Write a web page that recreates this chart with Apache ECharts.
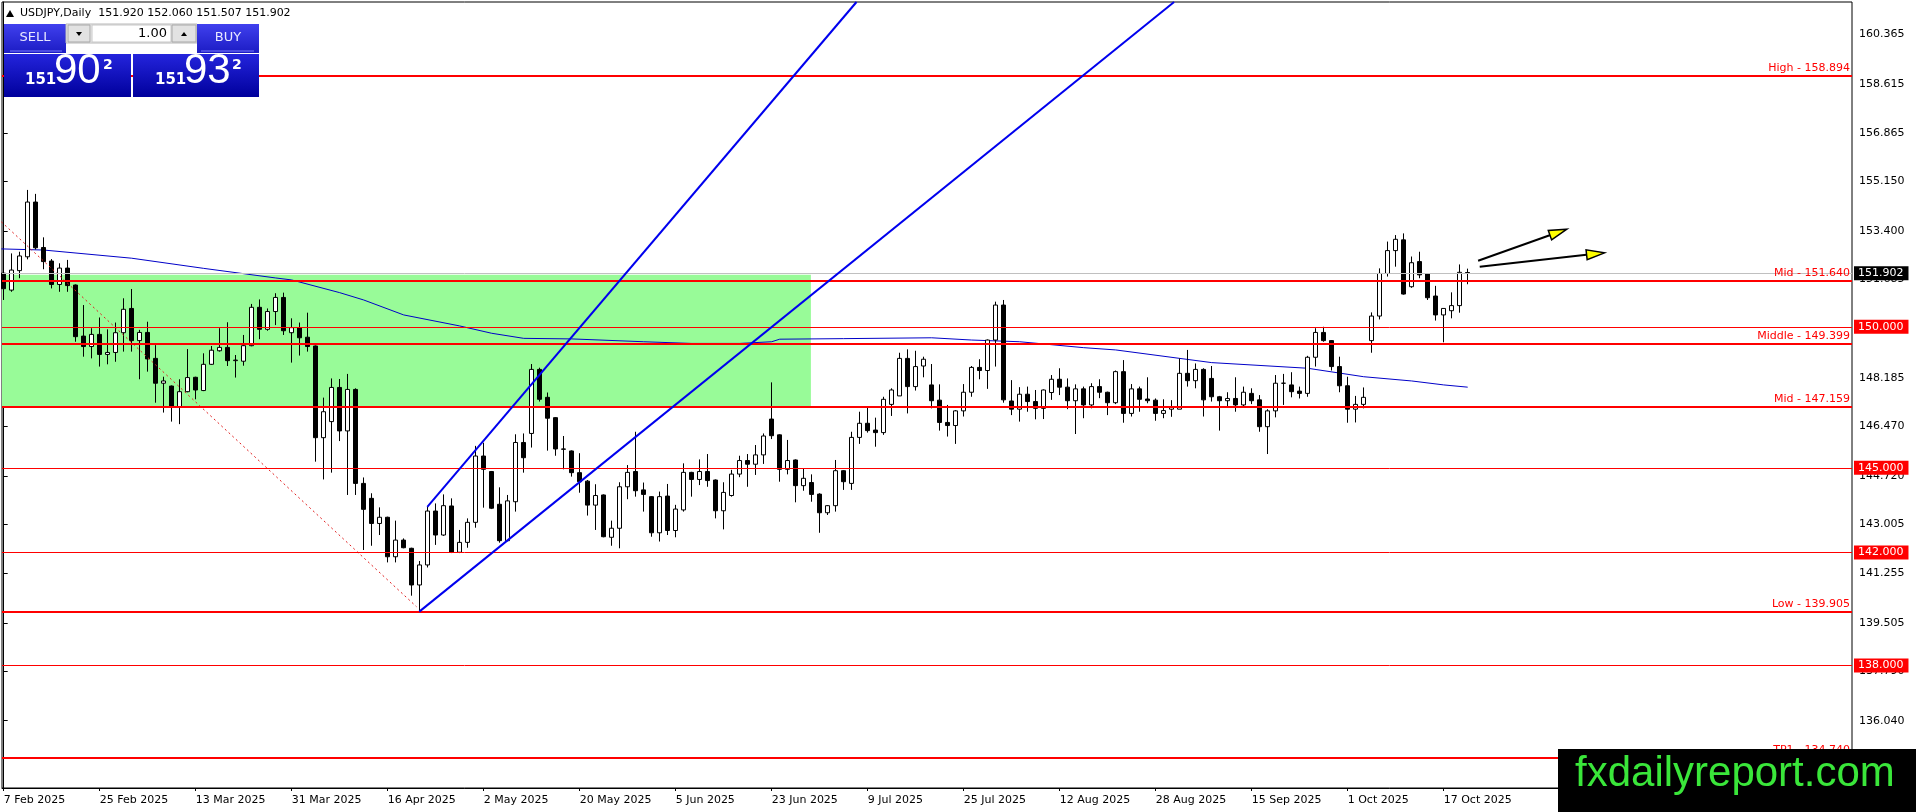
<!DOCTYPE html>
<html><head><meta charset="utf-8">
<script src="https://cdn.jsdelivr.net/npm/echarts@6.0.0/dist/echarts.min.js"></script>
<style>html,body{margin:0;padding:0;background:#fff;}#c{width:1916px;height:812px;}</style>
</head><body><div id="c"></div>
<script>
const symbolName = 'USDJPY,Daily';
const dateLabels = ['7 Feb 2025','25 Feb 2025','13 Mar 2025','31 Mar 2025','16 Apr 2025','2 May 2025','20 May 2025','5 Jun 2025','23 Jun 2025','9 Jul 2025','25 Jul 2025','12 Aug 2025','28 Aug 2025','15 Sep 2025','1 Oct 2025','17 Oct 2025'];
const labelBars = [0,12,24,36,48,60,72,84,96,108,120,132,144,156,168,180];
const priceTicks = [160.365,158.615,156.865,155.150,153.400,151.685,149.935,148.185,146.470,144.720,143.005,141.255,139.505,137.790,136.040];

// [open, high, low, close] per daily bar
const ohlc = [
[151.90,152.49,150.95,151.35],[151.30,152.60,151.24,152.01],[151.99,152.66,151.72,152.51],[152.48,154.85,152.39,154.42],[154.42,154.71,152.74,152.80],
[152.81,153.17,152.04,152.31],[152.33,152.40,151.36,151.50],[151.50,152.25,151.24,152.08],[152.08,152.37,151.24,151.46],[151.48,151.50,149.47,149.65],
[149.67,150.77,148.94,149.30],[149.30,149.95,148.88,149.73],[149.73,150.33,148.59,149.02],[149.02,149.91,148.67,149.09],[149.09,150.15,148.76,149.79],
[149.79,151.01,149.12,150.62],[150.65,151.34,149.12,149.51],[149.51,149.89,148.14,149.80],[149.80,150.18,148.41,148.86],[148.88,149.35,147.31,148.00],
[148.00,148.23,146.96,148.08],[147.90,147.92,146.64,147.15],[147.15,148.14,146.55,147.70],[147.70,149.21,147.68,148.20],[148.21,148.23,147.43,147.76],
[147.74,149.06,147.72,148.67],[148.67,149.32,148.65,149.17],[149.15,149.95,149.12,149.27],[149.27,150.16,148.61,148.80],[148.80,149.00,148.20,148.82],
[148.78,149.71,148.62,149.33],[149.33,150.81,149.31,150.69],[150.69,150.97,149.56,149.91],[149.91,150.65,149.86,150.54],[150.54,151.19,150.06,151.04],
[151.04,151.21,149.71,149.86],[149.79,150.30,148.73,149.97],[149.97,150.15,148.98,149.61],[149.63,150.50,149.12,149.30],[149.32,149.34,145.22,146.07],
[146.07,147.49,144.59,146.99],[146.64,148.17,144.83,147.85],[147.85,148.15,145.95,146.31],[146.31,148.33,144.04,147.78],[147.78,147.82,144.04,144.45],
[144.45,144.66,142.09,143.53],[143.92,144.10,142.24,143.03],[143.03,143.60,142.62,143.25],[143.25,143.27,141.65,141.85],[141.85,143.13,141.65,142.44],
[142.44,142.50,142.15,142.17],[142.15,142.17,140.47,140.85],[140.85,141.70,139.91,141.56],[141.56,143.62,141.47,143.47],[143.47,143.74,142.27,142.62],
[142.62,144.06,142.59,143.66],[143.65,143.92,141.98,142.01],[142.01,142.80,141.98,142.36],[142.36,143.21,142.17,143.07],[143.07,145.78,142.88,145.42],
[145.42,145.89,143.59,144.95],[144.87,144.89,143.54,143.57],[143.71,144.31,142.35,142.42],[142.42,144.04,142.40,143.83],[143.80,146.19,143.45,145.90],
[145.90,146.22,144.83,145.36],[146.22,148.68,145.72,148.49],[148.49,148.55,147.35,147.43],[147.50,147.67,145.61,146.76],[146.78,146.80,145.43,145.67],
[145.67,146.13,144.95,145.66],[145.60,145.62,144.69,144.83],[144.83,145.52,144.12,144.51],[144.53,144.57,143.31,143.68],[143.68,144.42,142.80,144.02],
[144.04,144.06,142.54,142.56],[142.54,143.13,142.24,142.86],[142.86,144.49,142.15,144.33],[144.33,145.10,143.89,144.84],[144.87,146.28,143.98,144.19],
[144.22,144.48,143.45,144.06],[143.98,144.00,142.56,142.70],[142.70,144.16,142.39,143.98],[144.00,144.43,142.62,142.78],[142.78,143.69,142.54,143.54],
[143.51,145.16,143.45,144.84],[144.84,144.86,143.98,144.59],[144.59,145.30,144.39,144.87],[144.87,145.49,144.33,144.55],[144.57,144.59,143.21,143.48],
[143.48,144.49,142.82,144.13],[144.02,144.93,143.98,144.78],[144.78,145.43,144.67,145.26],[145.26,145.49,144.33,145.13],[145.13,145.81,144.75,145.46],
[145.46,146.22,145.14,146.13],[146.73,148.03,146.02,146.14],[146.17,146.19,144.51,144.95],[144.95,145.99,144.77,145.26],[145.28,145.30,143.78,144.37],
[144.37,144.98,144.19,144.63],[144.48,144.77,143.80,144.06],[144.07,144.10,142.70,143.41],[143.41,143.68,143.33,143.66],[143.66,145.28,143.45,144.90],
[144.90,144.92,144.22,144.51],[144.45,146.28,144.22,146.08],[146.08,146.99,145.85,146.58],[146.58,147.17,146.25,146.32],[146.34,146.78,145.75,146.25],
[146.25,147.52,146.17,147.43],[147.25,147.82,146.84,147.76],[147.55,149.08,147.55,148.88],[148.88,149.20,146.93,147.88],[147.88,149.15,147.74,148.59],
[148.61,148.94,148.21,148.85],[147.94,148.68,147.11,147.38],[147.40,147.96,146.32,146.61],[146.61,147.23,146.11,146.50],[146.50,147.05,145.85,147.02],
[147.02,147.97,146.82,147.68],[147.68,148.61,147.52,148.56],[148.56,148.85,148.14,148.45],[148.45,149.55,147.80,149.53],[149.53,150.89,148.59,150.77],
[150.77,150.95,147.31,147.41],[147.37,148.11,146.87,147.08],[147.08,147.86,146.64,147.61],[147.61,147.88,146.99,147.35],[147.35,147.76,146.72,147.11],
[147.11,147.78,146.73,147.76],[147.67,148.29,147.41,148.14],[148.14,148.53,147.58,147.86],[147.86,148.17,147.08,147.38],[147.38,147.96,146.20,147.80],
[147.80,147.88,146.76,147.23],[147.23,148.00,147.11,147.88],[147.88,148.14,147.47,147.68],[147.68,147.70,146.87,147.31],[147.31,148.45,147.26,148.41],
[148.41,148.82,146.60,146.93],[146.93,147.97,146.82,147.80],[147.80,147.88,146.99,147.43],[147.44,148.21,147.29,147.38],[147.40,147.46,146.67,146.93],
[146.93,147.43,146.76,147.03],[147.08,147.40,146.81,147.17],[147.08,148.88,147.08,148.35],[148.35,149.18,147.88,148.09],[148.09,148.70,147.82,148.49],
[148.49,148.53,146.82,147.41],[148.17,148.61,147.35,147.52],[147.52,147.55,146.32,147.38],[147.38,147.68,147.13,147.46],[147.46,148.21,146.99,147.23],
[147.23,147.88,147.19,147.68],[147.64,147.82,147.26,147.38],[147.41,147.58,146.28,146.46],[146.46,147.08,145.49,147.02],[147.02,148.29,146.79,148.00],
[148.00,148.33,147.23,148.00],[147.94,148.39,147.50,147.70],[147.72,147.88,147.46,147.64],[147.64,148.97,147.52,148.92],[148.92,149.95,148.59,149.80],
[149.80,150.00,149.47,149.51],[149.51,149.53,148.45,148.59],[148.59,148.94,147.68,147.91],[147.91,148.23,146.60,147.08],[147.08,147.55,146.61,147.25],
[147.25,147.85,147.11,147.50],[149.51,150.51,149.08,150.38],[150.38,152.07,150.26,151.89],[151.89,153.02,151.78,152.70],[152.70,153.25,152.13,153.10],
[153.08,153.31,151.14,151.16],[151.42,152.49,151.38,152.27],[152.31,152.66,151.72,151.84],[151.87,151.89,150.95,151.03],[151.09,151.45,150.22,150.42],
[150.42,150.65,149.45,150.65],[150.57,151.22,150.30,150.75],[150.75,152.21,150.50,151.93],[151.920,152.060,151.507,151.902]
];

// moving average read at points [bar, value]
const maPoints = [[-0.3,152.76],[5,152.72],[16,152.43],[25,152.07],[34,151.73],[36,151.66],[42,151.21],[45,150.95],[50,150.42],[57,150.03],[61,149.77],[65,149.59],[71,149.57],[80,149.47],[86,149.41],[92,149.41],[96,149.47],[97,149.56],[105,149.58],[116,149.61],[121,149.53],[127,149.47],[135,149.26],[139,149.18],[147,148.88],[151,148.73],[163,148.53],[170,148.23],[176,148.08],[180,147.94],[183,147.86]];

const namedLevels = [['High',158.894],['Mid',151.640],['Middle',149.399],['Mid',147.159],['Low',139.905],['TP1',134.740]];
const roundLevels = [150.000,145.000,142.000,138.000];
const lastPrice = 151.902;
const bidPrice = 151.902;
const askPrice = 151.932;
const lotSize = '1.00';

const zoneBox = [[-0.3,151.84],[100.9,147.159]];
const channelLower = [[51.95,139.905],[146.3,161.51]];
const channelUpper = [[52.95,143.62],[106.6,161.51]];
const dottedLine = [[-0.3,153.72],[51.6,140.08]];
const arrows = [[184.3,152.34,195.4,153.46],[184.5,152.13,200.1,152.62]];

const FONT = '"DejaVu Sans", Tahoma, sans-serif';
const RED = '#ff0000';

const candleData = ohlc.map((r,i)=>[i, r[0], r[3], r[2], r[1]]);

const markLines = [];
namedLevels.forEach(([n,v])=>{
  markLines.push({yAxis:v, lineStyle:{color:RED,width:2,type:'solid'},
    label:{show:true, position:'insideEndTop', distance:2, formatter:n+' - '+v.toFixed(3), color:RED, fontSize:11, fontFamily:FONT}});
});
roundLevels.forEach(v=>{
  markLines.push({yAxis:v, lineStyle:{color:RED,width:1,type:'solid'},
    label:{show:true, position:'end', distance:2, formatter:v.toFixed(3), color:'#fff', backgroundColor:RED, padding:[2,5,1,4], fontSize:11, fontFamily:FONT}});
});
markLines.push({yAxis:lastPrice, lineStyle:{color:'#c0c0c0',width:1,type:'solid'},
  label:{show:true, position:'end', distance:2, formatter:lastPrice.toFixed(3), color:'#fff', backgroundColor:'#000', padding:[2,5,1,4], fontSize:11, fontFamily:FONT}});

function splitPrice(p){
  const s = p.toFixed(3); // 151.902
  return {big:s.slice(0,3), mid:s.slice(4,6), small:s.slice(6)};
}
const bidParts = splitPrice(bidPrice), askParts = splitPrice(askPrice);
const last = ohlc[ohlc.length-1];

const topGrad = ()=> new echarts.graphic.LinearGradient(0,0,0,1,[{offset:0,color:'#4040ee'},{offset:1,color:'#1c1cc4'}]);
const botGrad = ()=> new echarts.graphic.LinearGradient(0,0,0,1,[{offset:0,color:'#2424dc'},{offset:1,color:'#00009c'}]);

const chart = echarts.init(document.getElementById('c'), null, {renderer:'canvas'});
chart.setOption({
  animation:false,
  backgroundColor:'#ffffff',
  grid:{left:2, top:2, width:1850, height:786, show:true, borderColor:'#000', borderWidth:1, backgroundColor:'#fff', containLabel:false, outerBoundsMode:'none'},
  xAxis:{type:'value', min:-0.2125, max:231.0375, scale:true,
    axisLine:{show:true, lineStyle:{color:'#000',width:1}},
    axisTick:{show:true, customValues:labelBars, length:3, lineStyle:{color:'#000'}},
    axisLabel:{show:true, customValues:labelBars, align:'left', margin:7, color:'#000', fontSize:11, fontFamily:FONT,
      formatter:(v)=>{const k=labelBars.indexOf(Math.round(v)); return k>=0?dateLabels[k]:'';}},
    splitLine:{show:false}},
  yAxis:{type:'value', position:'right', min:133.655, max:161.510, scale:true,
    axisLine:{show:true, lineStyle:{color:'#000',width:1}},
    axisTick:{show:true, customValues:priceTicks, length:4, lineStyle:{color:'#000'}},
    axisLabel:{show:true, customValues:priceTicks, margin:7, color:'#000', fontSize:11, fontFamily:FONT, formatter:(v)=>v.toFixed(3)},
    splitLine:{show:false}},
  series:[
    {type:'line', name:'MA', data:maPoints, showSymbol:false, symbol:'none', z:2,
      lineStyle:{color:'#0000c8', width:1},
      markArea:{silent:true, z:1, itemStyle:{color:'#98fb98'}, data:[[{coord:zoneBox[0]},{coord:zoneBox[1]}]]}},
    {type:'candlestick', name:symbolName, data:candleData, encode:{x:0, y:[1,2,3,4]}, barWidth:4, z:3,
      itemStyle:{color:'#ffffff', color0:'#000000', borderColor:'#000000', borderColor0:'#000000', borderWidth:1},
      markLine:{silent:true, symbol:['none','none'], z:5, animation:false, data:markLines}},
    {type:'line', data:dottedLine, showSymbol:false, symbol:'none', z:4, lineStyle:{color:'#e02020', width:1, type:[2,3]}},
    {type:'line', data:channelLower, showSymbol:false, symbol:'none', z:6, lineStyle:{color:'#0000ee', width:2}},
    {type:'line', data:channelUpper, showSymbol:false, symbol:'none', z:6, lineStyle:{color:'#0000ee', width:2}},
    {type:'custom', data:arrows, encode:{x:[0,2], y:[1,3]}, z:7, clip:false,
      renderItem:(params, api)=>{
        const a = api.coord([api.value(0), api.value(1)]);
        const b = api.coord([api.value(2), api.value(3)]);
        const dx=b[0]-a[0], dy=b[1]-a[1], len=Math.sqrt(dx*dx+dy*dy);
        const ux=dx/len, uy=dy/len, px=-uy, py=ux;
        const hl=18, hw=5;
        const base=[b[0]-ux*hl, b[1]-uy*hl];
        return {type:'group', children:[
          {type:'line', shape:{x1:a[0],y1:a[1],x2:base[0]+ux*2,y2:base[1]+uy*2}, style:{stroke:'#000', lineWidth:2}},
          {type:'polygon', shape:{points:[[b[0],b[1]],[base[0]+px*hw,base[1]+py*hw],[base[0]-px*hw,base[1]-py*hw]]}, style:{fill:'#ffff00', stroke:'#000', lineWidth:1.5}}
        ]};
      }}
  ],
  graphic:[
    {type:'polygon', z:100, shape:{points:[[6,17],[14,17],[10,10]]}, style:{fill:'#000'}},
    {type:'text', z:100, x:20, y:13, style:{text: symbolName+'  '+last[0].toFixed(3)+' '+last[1].toFixed(3)+' '+last[2].toFixed(3)+' '+last[3].toFixed(3), font:'11px '+FONT, fill:'#000', verticalAlign:'middle'}},
    // SELL top
    {type:'rect', z:100, shape:{x:4,y:24,width:62,height:29}, style:{fill:topGrad()}},
    {type:'line', z:101, shape:{x1:10,y1:51,x2:62,y2:51}, style:{stroke:'#7a7aff', lineWidth:1}},
    {type:'text', z:101, x:35, y:38, style:{text:'SELL', font:'13px '+FONT, fill:'#e8e8ff', align:'center', verticalAlign:'middle'}},
    // spinner
    {type:'rect', z:100, shape:{x:66,y:24,width:131,height:19}, style:{fill:'#ececec', stroke:'#b8b8b8', lineWidth:1}},
    {type:'rect', z:101, shape:{x:68,y:25,width:22,height:17}, style:{fill:'#e2e2e2', stroke:'#a8a8a8', lineWidth:1}},
    {type:'polygon', z:102, shape:{points:[[76,32],[82,32],[79,36]]}, style:{fill:'#000'}},
    {type:'rect', z:101, shape:{x:92,y:25,width:79,height:17}, style:{fill:'#ffffff', stroke:'#c8c8c8', lineWidth:1}},
    {type:'text', z:102, x:167, y:34, style:{text:lotSize, font:'13px '+FONT, fill:'#000', align:'right', verticalAlign:'middle'}},
    {type:'rect', z:101, shape:{x:172,y:25,width:24,height:17}, style:{fill:'#e2e2e2', stroke:'#a8a8a8', lineWidth:1}},
    {type:'polygon', z:102, shape:{points:[[181,36],[187,36],[184,32]]}, style:{fill:'#000'}},
    // BUY top
    {type:'rect', z:100, shape:{x:197,y:24,width:62,height:29}, style:{fill:topGrad()}},
    {type:'line', z:101, shape:{x1:201,y1:51,x2:254,y2:51}, style:{stroke:'#7a7aff', lineWidth:1}},
    {type:'text', z:101, x:228, y:38, style:{text:'BUY', font:'13px '+FONT, fill:'#e8e8ff', align:'center', verticalAlign:'middle'}},
    // bottom price boxes
    {type:'rect', z:100, shape:{x:4,y:54,width:127,height:43}, style:{fill:botGrad()}},
    {type:'rect', z:100, shape:{x:133,y:54,width:126,height:43}, style:{fill:botGrad()}},
    {type:'text', z:101, x:25, y:88, style:{text:bidParts.big, font:'bold 15px '+FONT, fill:'#fff', verticalAlign:'bottom'}},
    {type:'text', z:101, x:54, y:92, style:{text:bidParts.mid, font:'42px "Liberation Sans", Arial, sans-serif', fill:'#fff', verticalAlign:'bottom'}},
    {type:'text', z:101, x:103, y:58, style:{text:bidParts.small, font:'bold 14px '+FONT, fill:'#fff', verticalAlign:'top'}},
    {type:'text', z:101, x:155, y:88, style:{text:askParts.big, font:'bold 15px '+FONT, fill:'#fff', verticalAlign:'bottom'}},
    {type:'text', z:101, x:184, y:92, style:{text:askParts.mid, font:'42px "Liberation Sans", Arial, sans-serif', fill:'#fff', verticalAlign:'bottom'}},
    {type:'text', z:101, x:232, y:58, style:{text:askParts.small, font:'bold 14px '+FONT, fill:'#fff', verticalAlign:'top'}},
    // watermark
    {type:'rect', z:100, shape:{x:1558,y:749,width:358,height:63}, style:{fill:'#000'}},
    {type:'text', z:101, x:1575, y:774, style:{text:'fxdailyreport.com', font:'42px "Liberation Sans", Arial, sans-serif', fill:'#3ae63a', verticalAlign:'middle'}}
  ]
});
</script></body></html>
